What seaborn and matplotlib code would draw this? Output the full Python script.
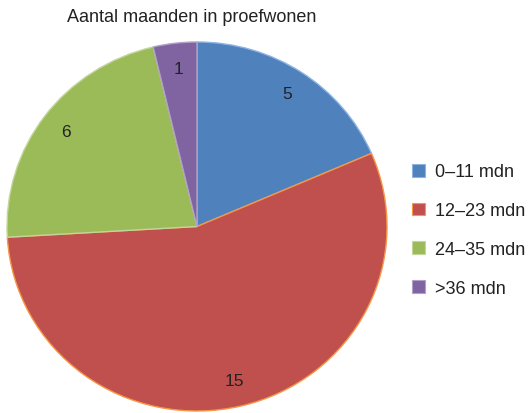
import matplotlib
matplotlib.use("Agg")
import matplotlib.pyplot as plt
from matplotlib.patches import Patch
import seaborn as sns

sns.set_theme(style="white")
plt.rcParams["font.family"] = ["Liberation Sans", "DejaVu Sans"]

# ── Données ────────────────────────────────────────────────────────────────────
categories = ["0–11 mdn", "12–23 mdn", "24–35 mdn", ">36 mdn"]
values     = [5, 15, 6, 1]
colors     = ["#4F81BD", "#C0504D", "#9BBB59", "#8064A2"]
edges      = ["#8DB3E2", "#F79646", "#C3D69B", "#B2A1C7"]
title      = "Aantal maanden in proefwonen"

W, H = 529, 414
fig = plt.figure(figsize=(W / 100, H / 100), dpi=100)

# axe du camembert (légèrement elliptique comme l'original)
ax = fig.add_axes([7 / W, 2 / H, 380 / W, 369 / H])
wedges, texts = ax.pie(values, labels=[str(v) for v in values], colors=colors,
                       startangle=90, counterclock=False, labeldistance=0.86,
                       wedgeprops=dict(linewidth=1.0),
                       textprops=dict(fontsize=12.5, color="#222222", ha="center", va="center"))
for w, e in zip(wedges, edges):
    w.set_edgecolor(e)
ax.set_aspect("auto")
ax.set_xlim(-1.0, 1.0); ax.set_ylim(-1.0, 1.0)
ax.axis("off")

fig.text(192 / W, 1 - 18 / H, title, ha="center", va="center", fontsize=13, color="#222222")

handles = [Patch(facecolor=c, edgecolor=e, linewidth=0.8) for c, e in zip(colors, edges)]
fig.legend(handles, categories, loc="center left", bbox_to_anchor=(412 / W, 1 - 231 / H),
           frameon=False, fontsize=13, handlelength=0.7, handleheight=0.7,
           handletextpad=0.55, labelspacing=1.2, borderpad=0, borderaxespad=0,
           labelcolor="#222222")

plt.savefig("out.png", dpi=100)
plt.close()
